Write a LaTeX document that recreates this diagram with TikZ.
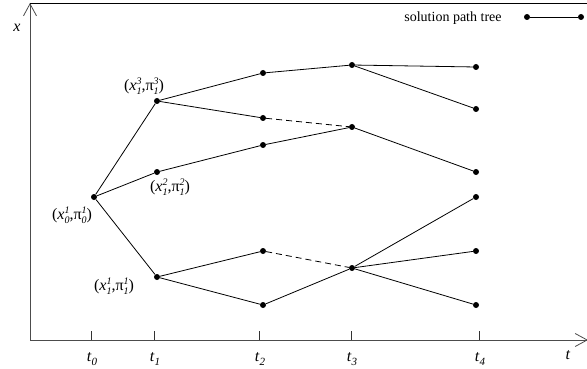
\documentclass[tikz,border=0pt]{standalone}
\usepackage{fontspec}
\setmainfont{Liberation Serif}
\usetikzlibrary{arrows.meta}
\newcommand\spsb[2]{\makebox[0pt][l]{\raisebox{0.8ex}{\fontsize{10}{10}\selectfont\itshape #1}}\raisebox{-0.5ex}{\fontsize{10}{10}\selectfont\itshape #2}}
\newcommand\tsub[1]{\textit{t}\raisebox{-0.5ex}{\fontsize{11}{11}\selectfont\itshape #1}}
\begin{document}
\begin{tikzpicture}[x=1pt,y=-1pt,
  dot/.style={circle,fill=black,inner sep=0pt,minimum size=6pt},
  edge/.style={line width=0.8pt},
  dashedge/.style={line width=0.8pt,dash pattern=on 6pt off 4pt},
  axis/.style={line width=0.9pt,draw=black!70,-{Straight Barb[length=12pt,width=13pt,line width=0.8pt]}},
  lbl/.style={inner sep=0pt,font=\fontsize{16}{16}\selectfont},
  tlbl/.style={inner sep=0pt,font=\fontsize{16}{16}\selectfont},
  tickmark/.style={line width=0.8pt,draw=black!80}]
\useasboundingbox (0,0) rectangle (587,369);
% axes and frame
\coordinate (O) at (30,340);
\coordinate (ytop) at (30,3);
\coordinate (xend) at (588,340);
\coordinate (tr) at (587,3);
\draw[axis] (O) -- (ytop);
\draw[axis] (O) -- (xend);
\draw[line width=0.9pt] (ytop) -- (tr);
\node[tlbl] (xlab) at (17,28) {\textit{x}};
\node[tlbl] (tlab) at (568,355) {\textit{t}};
% ticks
\foreach \n/\xx/\s in {0/91/0,1/154/1,2/259/2,3/351/3,4/479/4}{
  \coordinate (tk\n a) at (\xx,331);
  \coordinate (tk\n b) at (\xx,340);
  \draw[tickmark] (tk\n a) -- (tk\n b);
  \node[tlbl] (tl\n) at (\xx+1,359) {\tsub{\s}};
}
% nodes
\node[dot] (n0) at (94,197) {};
\node[dot] (a1) at (157,101) {};
\node[dot] (b1) at (157,172) {};
\node[dot] (c1) at (157,277) {};
\node[dot] (a2) at (263,73) {};
\node[dot] (b2) at (263,118) {};
\node[dot] (c2) at (263,145) {};
\node[dot] (d2) at (263,251) {};
\node[dot] (e2) at (263,305) {};
\node[dot] (a3) at (352,65) {};
\node[dot] (b3) at (352,127) {};
\node[dot] (c3) at (352,268) {};
\node[dot] (a4) at (476,67) {};
\node[dot] (b4) at (476,109) {};
\node[dot] (c4) at (476,172) {};
\node[dot] (d4) at (476,197) {};
\node[dot] (e4) at (476,251) {};
\node[dot] (f4) at (476,305) {};
% edges
\draw[edge] (n0) -- (a1);
\draw[edge] (n0) -- (b1);
\draw[edge] (n0) -- (c1);
\draw[edge] (a1) -- (a2);
\draw[edge] (a1) -- (b2);
\draw[edge] (a2) -- (a3);
\draw[edge] (a3) -- (a4);
\draw[edge] (a3) -- (b4);
\draw[dashedge] (b2) -- (b3);
\draw[edge] (b1) -- (c2);
\draw[edge] (c2) -- (b3);
\draw[edge] (b3) -- (c4);
\draw[edge] (c1) -- (d2);
\draw[edge] (c1) -- (e2);
\draw[dashedge] (d2) -- (c3);
\draw[edge] (e2) -- (c3);
\draw[edge] (c3) -- (d4);
\draw[edge] (c3) -- (e4);
\draw[edge] (c3) -- (f4);
% labels
\node[lbl] (la1) at (144,86) {(\textit{x}\spsb{3}{1},π\spsb{3}{1})};
\node[lbl] (lb1) at (170,187) {(\textit{x}\spsb{2}{1},π\spsb{2}{1})};
\node[lbl] (ln0) at (72,215) {(\textit{x}\spsb{1}{0},π\spsb{1}{0})};
\node[lbl] (lc1) at (114,286) {(\textit{x}\spsb{1}{1},π\spsb{1}{1})};
% legend
\node[inner sep=0pt,font=\fontsize{14}{14}\selectfont] (leg) at (453,18) {solution path tree};
\node[dot] (lg1) at (527,17) {};
\node[dot] (lg2) at (581,17) {};
\draw[edge] (lg1) -- (lg2);
\end{tikzpicture}
\end{document}
